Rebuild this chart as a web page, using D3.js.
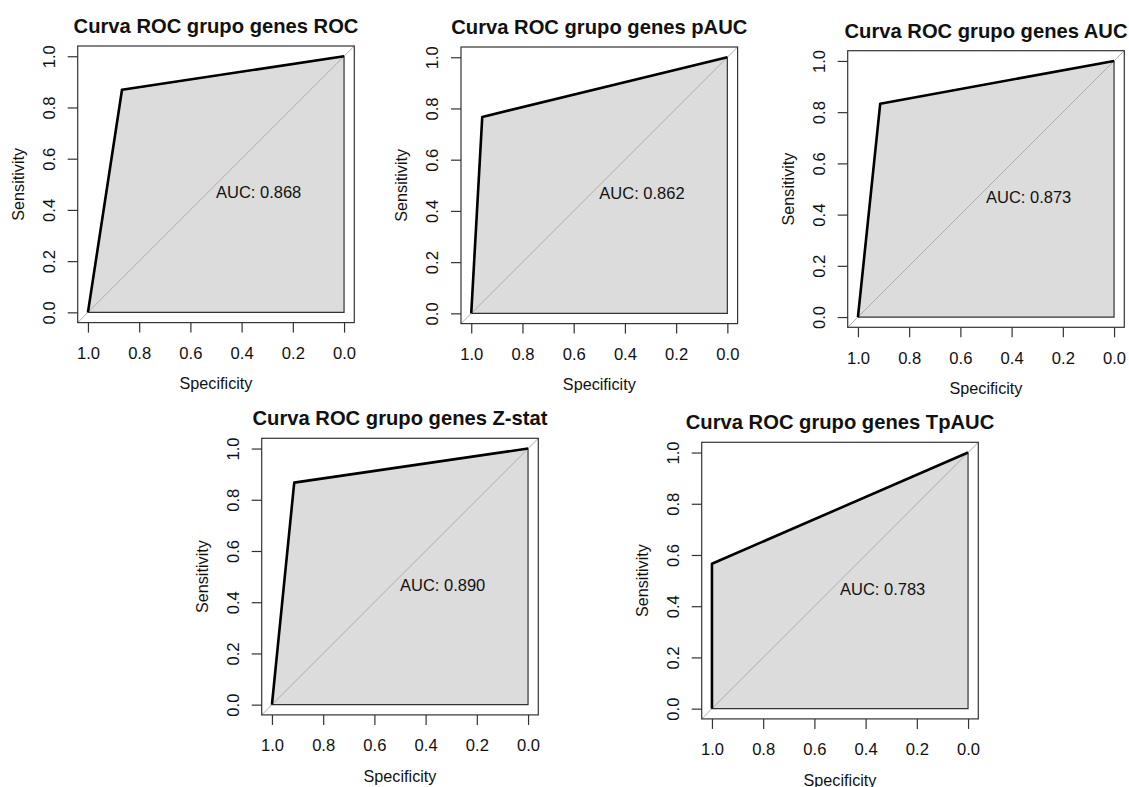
<!DOCTYPE html>
<html>
<head>
<meta charset="utf-8">
<script src="https://cdn.jsdelivr.net/npm/d3@7"></script>
<style>
  html, body { margin: 0; padding: 0; background: #fff; }
  svg { display: block; }
  text { font-family: "Liberation Sans", Arial, sans-serif; fill: #111; }
</style>
</head>
<body>
<svg id="chart" width="1129" height="787"></svg>
<script>
// ROC curves for five gene groups: each classifier has a single operating point
const titles = [
  "Curva ROC grupo genes ROC",
  "Curva ROC grupo genes pAUC",
  "Curva ROC grupo genes AUC",
  "Curva ROC grupo genes Z-stat",
  "Curva ROC grupo genes TpAUC"
];
const specificity = [0.867, 0.957, 0.913, 0.913, 1.000];
const sensitivity = [0.869, 0.767, 0.833, 0.867, 0.566];
const tickValues = [1.0, 0.8, 0.6, 0.4, 0.2, 0.0];

// Top-left corner of each plot box and the common box size
const boxLeft = [77.7, 461, 847.7, 261.7, 701.7];
const boxTop = [46, 47, 50.7, 438.3, 442.3];
const boxSize = 276.6;

const svg = d3.select("#chart");
const fmtTick = d3.format(".1f");
const fmtAuc = d3.format(".3f");

titles.forEach((title, i) => {
  const x0 = boxLeft[i], y0 = boxTop[i], S = boxSize;
  // R-style 4% padding around the [0,1] range, specificity reversed
  const x = d3.scaleLinear().domain([1.04, -0.04]).range([x0, x0 + S]);
  const y = d3.scaleLinear().domain([-0.04, 1.04]).range([y0 + S, y0]);

  const pts = [
    { sp: 1, se: 0 },
    { sp: specificity[i], se: sensitivity[i] },
    { sp: 0, se: 1 }
  ];
  // trapezoidal area under the curve
  let auc = 0;
  for (let k = 1; k < pts.length; k++) {
    auc += (pts[k - 1].sp - pts[k].sp) * (pts[k - 1].se + pts[k].se) / 2;
  }

  const g = svg.append("g");

  // area polygon
  const poly = pts.concat([{ sp: 0, se: 0 }]);
  g.append("path")
    .attr("d", d3.line().x(d => x(d.sp)).y(d => y(d.se))(poly) + "Z")
    .attr("fill", "#dcdcdc")
    .attr("stroke", "#333")
    .attr("stroke-width", 1.2);

  // identity line across the whole plot box
  g.append("line")
    .attr("x1", x(1.04)).attr("y1", y(-0.04))
    .attr("x2", x(-0.04)).attr("y2", y(1.04))
    .attr("stroke", "#adadad")
    .attr("stroke-width", 1);

  // ROC curve
  g.append("path")
    .attr("d", d3.line().x(d => x(d.sp)).y(d => y(d.se))(pts))
    .attr("fill", "none")
    .attr("stroke", "#000")
    .attr("stroke-width", 2.6)
    .attr("stroke-linejoin", "round");

  // plot box
  g.append("rect")
    .attr("x", x0).attr("y", y0)
    .attr("width", S).attr("height", S)
    .attr("fill", "none")
    .attr("stroke", "#333")
    .attr("stroke-width", 1.2);

  // x axis
  const xa = g.append("g")
    .attr("transform", `translate(0,${y0 + S})`)
    .call(d3.axisBottom(x).tickValues(tickValues).tickFormat(fmtTick).tickSize(10).tickSizeOuter(0));
  xa.select(".domain").remove();
  xa.selectAll(".tick line").attr("stroke", "#333").attr("stroke-width", 1.2);
  xa.selectAll(".tick text")
    .attr("y", 36.6).attr("dy", null)
    .style("font-size", "16.6px")
    .style("font-family", "'Liberation Sans', Arial, sans-serif")
    .attr("fill", "#111");

  // y axis, labels rotated parallel to the axis
  const ya = g.append("g")
    .attr("transform", `translate(${x0},0)`)
    .call(d3.axisLeft(y).tickValues(tickValues).tickFormat(fmtTick).tickSize(10).tickSizeOuter(0));
  ya.select(".domain").remove();
  ya.selectAll(".tick line").attr("stroke", "#333").attr("stroke-width", 1.2);
  ya.selectAll(".tick text")
    .attr("x", 0).attr("y", -23).attr("dy", null)
    .attr("transform", "rotate(-90)")
    .attr("text-anchor", "middle")
    .style("font-size", "16.6px")
    .style("font-family", "'Liberation Sans', Arial, sans-serif")
    .attr("fill", "#111");

  // axis titles
  g.append("text")
    .attr("x", x0 + S / 2).attr("y", y0 + S + 66.6)
    .attr("text-anchor", "middle")
    .style("font-size", "16.2px")
    .text("Specificity");
  g.append("text")
    .attr("transform", `translate(${x0 - 54},${y0 + S / 2}) rotate(-90)`)
    .attr("text-anchor", "middle")
    .style("font-size", "16.2px")
    .text("Sensitivity");

  // main title
  g.append("text")
    .attr("x", x0 + S / 2).attr("y", y0 - 13)
    .attr("text-anchor", "middle")
    .style("font-size", "20.2px")
    .style("font-weight", "bold")
    .attr("fill", "#000")
    .text(title);

  // AUC annotation, top-left anchored at (0.5, 0.5)
  g.append("text")
    .attr("x", x(0.5)).attr("y", y(0.5) + 14)
    .style("font-size", "16.5px")
    .text("AUC: " + fmtAuc(auc));
});
</script>
</body>
</html>
